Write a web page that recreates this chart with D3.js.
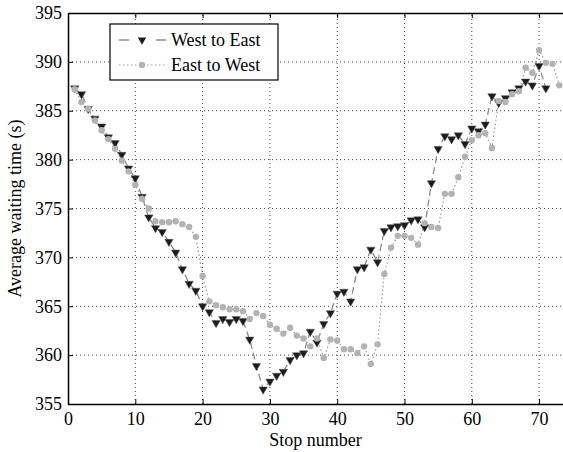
<!DOCTYPE html>
<html>
<head>
<meta charset="utf-8">
<script src="https://cdn.jsdelivr.net/npm/d3@7"></script>
<style>
  body { margin: 0; background: #fff; }
  svg { display: block; font-family: "Liberation Serif", "Times New Roman", serif; }
  .grid line { stroke: #444; stroke-width: 1; stroke-dasharray: 1,3; }
  .axis path, .axis line { stroke: #000; }
  .axis text { font-size: 18px; fill: #000; font-family: "Liberation Serif", serif; }
</style>
</head>
<body>
<div id="chart"></div>
<script>
// average waiting time (s) per stop, stops numbered from 1
const westToEast = [
  387.3, 386.7, 385.2, 384.2, 383.4, 382.3, 381.7, 380.5, 379.1, 378.1,
  376.2, 374.1, 373.0, 372.6, 371.6, 370.5, 368.8, 367.3, 366.6, 365.0,
  364.4, 363.3, 363.7, 363.4, 363.7, 363.5, 361.6, 358.9, 356.5, 357.3,
  357.9, 358.3, 359.5, 360.0, 360.2, 362.4, 361.3, 363.2, 364.3, 366.3,
  366.5, 365.5, 368.8, 369.0, 370.8, 369.5, 372.7, 373.1, 373.2, 373.3,
  373.8, 373.9, 373.1, 377.6, 381.1, 382.4, 382.1, 382.5, 381.6, 383.2,
  382.9, 383.6, 386.5, 385.8, 386.3, 386.9, 387.3, 388.0, 387.6, 389.6,
  387.3
];
const eastToWest = [
  387.2, 385.9, 385.2, 384.0, 383.0, 382.1, 381.1, 379.9, 378.8, 377.4,
  376.0, 375.0, 373.7, 373.6, 373.6, 373.7, 373.4, 373.1, 372.1, 368.1,
  365.5, 365.1, 364.9, 364.7, 364.7, 364.5, 363.7, 364.3, 364.0, 363.1,
  362.7, 362.2, 362.8, 362.0, 361.7, 360.9, 361.7, 359.7, 361.6, 361.5,
  360.6, 360.6, 360.2, 360.9, 359.1, 361.1, 368.3, 371.0, 372.2, 372.2,
  372.0, 371.3, 373.5, 373.1, 373.0, 376.5, 376.5, 378.2, 380.3, 382.0,
  382.5, 382.7, 381.2, 386.0, 385.9, 386.7, 387.0, 389.4, 388.9, 391.2,
  389.9, 389.8, 387.6
];
const seriesNames = ["West to East", "East to West"];
const xTicks = [0, 10, 20, 30, 40, 50, 60, 70];
const yTicks = [355, 360, 365, 370, 375, 380, 385, 390, 395];

const W = 563, H = 452;
const margin = { top: 13, left: 68, bottom: 48 };
const plotRight = 566; // right edge of the axes box falls just outside the picture

const svg = d3.select("#chart").append("svg")
  .attr("width", W).attr("height", H);

const x = d3.scaleLinear().domain([0, 74]).range([margin.left, plotRight]);
const y = d3.scaleLinear().domain([355, 395]).range([H - margin.bottom, margin.top]);

// grid
const grid = svg.append("g").attr("class", "grid");
grid.selectAll(".gx").data(xTicks.filter(d => d > 0)).enter().append("line")
  .attr("x1", d => x(d)).attr("x2", d => x(d))
  .attr("y1", y(355)).attr("y2", y(395));
grid.selectAll(".gy").data(yTicks.filter(d => d > 355 && d < 395)).enter().append("line")
  .attr("y1", d => y(d)).attr("y2", d => y(d))
  .attr("x1", x(0)).attr("x2", plotRight);

// axes (ticks pointing inwards, like the original)
const xAxis = d3.axisBottom(x).tickValues(xTicks).tickSize(-5).tickSizeOuter(0).tickPadding(8);
const yAxis = d3.axisLeft(y).tickValues(yTicks).tickSize(-5).tickSizeOuter(0).tickPadding(6);
const xTop = d3.axisTop(x).tickValues(xTicks).tickSize(-5).tickSizeOuter(0).tickFormat("");

svg.append("g").attr("class", "axis")
  .attr("transform", `translate(0,${y(355)})`).call(xAxis);
svg.append("g").attr("class", "axis")
  .attr("transform", `translate(0,${y(395)})`).call(xTop);
svg.append("g").attr("class", "axis")
  .attr("transform", `translate(${x(0)},0)`).call(yAxis);
svg.selectAll(".axis .domain").attr("stroke-width", 1.5);

// axis titles
svg.append("text")
  .attr("x", (x(0) + W) / 2).attr("y", 446)
  .attr("text-anchor", "middle").attr("font-size", 18)
  .text("Stop number");
svg.append("text")
  .attr("transform", `translate(21,${(y(355) + y(395)) / 2}) rotate(-90)`)
  .attr("text-anchor", "middle").attr("font-size", 18)
  .text("Average waiting time (s)");

// series
const line = d3.line().x((d, i) => x(i + 1)).y(d => y(d));
const triangle = d3.symbol().type(d3.symbolTriangle).size(30);

svg.append("path").datum(eastToWest)
  .attr("d", line).attr("fill", "none")
  .attr("stroke", "#9a9a9a").attr("stroke-width", 1.2)
  .attr("stroke-dasharray", "1.5,2.5");

svg.append("path").datum(westToEast)
  .attr("d", line).attr("fill", "none")
  .attr("stroke", "#8c8c8c").attr("stroke-width", 1.3)
  .attr("stroke-dasharray", "7,4");

svg.selectAll(".tri").data(westToEast).enter().append("path")
  .attr("class", "tri")
  .attr("d", triangle)
  .attr("transform", (d, i) => `translate(${x(i + 1)},${y(d)}) rotate(180)`)
  .attr("fill", "#1c1c1c").attr("stroke", "#555").attr("stroke-width", 0.5);

svg.selectAll(".dot").data(eastToWest).enter().append("circle")
  .attr("class", "dot")
  .attr("cx", (d, i) => x(i + 1)).attr("cy", d => y(d))
  .attr("r", 3.2).attr("fill", "#b3b3b3");

// legend
const legend = svg.append("g").attr("transform", "translate(110,24)");
legend.append("rect")
  .attr("width", 168).attr("height", 56)
  .attr("fill", "#fff").attr("stroke", "#000").attr("stroke-width", 1.2);

const row1 = legend.append("g").attr("transform", "translate(0,16)");
row1.append("line").attr("x1", 9).attr("x2", 56)
  .attr("stroke", "#8c8c8c").attr("stroke-width", 1.3).attr("stroke-dasharray", "10,27");
row1.append("path").attr("d", triangle)
  .attr("transform", "translate(32,0) rotate(180)").attr("fill", "#1c1c1c");
row1.append("text").attr("x", 61).attr("dy", "0.33em").attr("font-size", 18).text(seriesNames[0]);

const row2 = legend.append("g").attr("transform", "translate(0,41)");
row2.append("line").attr("x1", 9).attr("x2", 56)
  .attr("stroke", "#9a9a9a").attr("stroke-width", 1.2).attr("stroke-dasharray", "1.5,2.5");
row2.append("circle").attr("cx", 32).attr("r", 3.2).attr("fill", "#b3b3b3");
row2.append("text").attr("x", 61).attr("dy", "0.33em").attr("font-size", 18).text(seriesNames[1]);
</script>
</body>
</html>
